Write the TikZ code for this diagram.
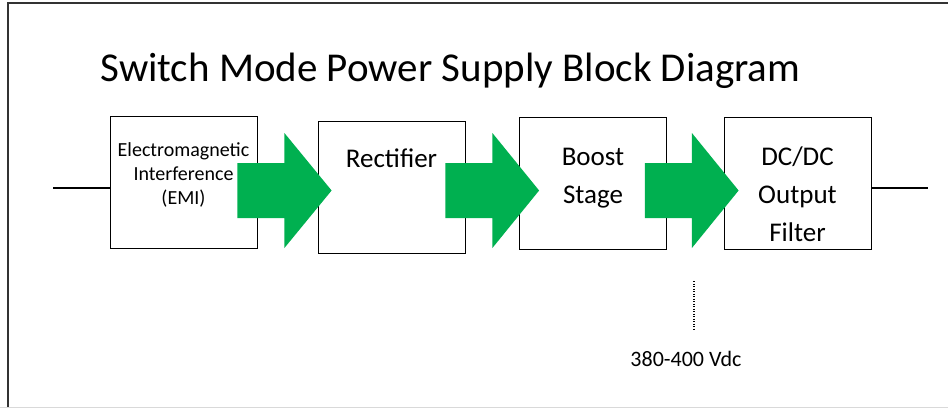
\documentclass[tikz,border=0pt]{standalone}
\usepackage{fontspec}
\setmainfont{Carlito}
\usepackage{tikz}
\usetikzlibrary{
  positioning,
  calc
}
\definecolor{flowgreen}{RGB}{0,176,80}
\tikzset{
  block/.style={draw=black, line width=0.8pt, minimum width=147pt, minimum height=132pt, inner sep=0pt},
  blocktext/.style={anchor=north, align=center, inner sep=0pt, font=\fontsize{27}{38}\selectfont},
  flow/.style={fill=flowgreen}
}

\begin{document}
\begin{tikzpicture}[x=1pt,y=-1pt]
\useasboundingbox (0,0) rectangle (948,408);
% frame
\draw[line width=2pt, black!80] (8,408) -- (8,3) -- (948,3);
\draw[black!15] (0,407) -- (948,407);

\node[font=\fontsize{41}{48}\selectfont, anchor=base] (title) at (450.5,81) {Switch Mode Power Supply Block Diagram};

% blocks
\node[block] (emi) at (183.5,182.5) {};
\node[block] (rect) at (391.5,187) {};
\node[block] (boost) at (593,183) {};
\node[block] (dcdc) at (797.5,183) {};

\node[blocktext, font=\fontsize{20}{24}\selectfont, below=26pt of emi.north] (emitext) {Electromagnetic\\Interference\\(EMI)};
\node[blocktext, below=28pt of rect.north] (recttext) {Rectifier};
\node[blocktext, below=31pt of boost.north] (boosttext) {Boost\\Stage};
\node[blocktext, below=30pt of dcdc.north] (dcdctext) {DC/DC\\Output\\Filter};

% power flow
\coordinate (axis) at (0,190.5);
\foreach \a/\b/\s/\t in {emi/rect/20/14, rect/boost/20/20, boost/dcdc/22/15}{
  \fill[flow] ($(\a.east |- axis)+(-\s,-27.5)$) -- ++(47,0) -- ++(0,-30)
    -- ($(\b.west |- axis)+(\t,0)$)
    -- ($(\a.east |- axis)+(47-\s,57.5)$) -- ++(0,-30) -- ++(-47,0) -- cycle;
}

% input and output lines
\coordinate (in) at (53,188);
\coordinate (out) at (928,188);
\draw[line width=1.2pt] (in) -- (in -| emi.west);
\draw[line width=1.2pt] (dcdc.east |- out) -- (out);

% bus voltage
\node[font=\fontsize{22}{26}\selectfont] (vdc) at (686,359) {380-400 Vdc};
\coordinate (tap) at (694,281);
\draw[line width=1.2pt, dash pattern=on 1pt off 1.5pt] (tap) -- ++(0,50);
\end{tikzpicture}
\end{document}
